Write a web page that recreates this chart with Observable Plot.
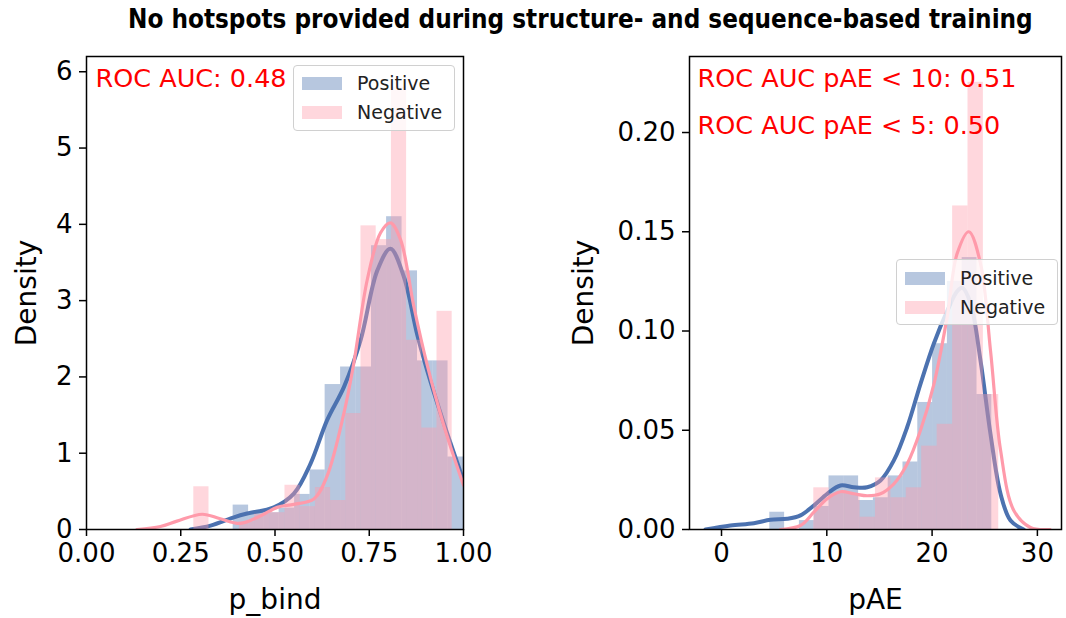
<!DOCTYPE html>
<html><head><meta charset="utf-8">
<script src="https://cdn.jsdelivr.net/npm/d3@7"></script>
<script src="https://cdn.jsdelivr.net/npm/@observablehq/plot@0.6"></script>
<style>
body{margin:0;background:#fff;}
#wrap{position:relative;width:1066px;height:618px;overflow:hidden;background:#fff;}
#title{position:absolute;left:128px;top:4px;white-space:nowrap;font-family:"DejaVu Sans Condensed","DejaVu Sans";font-stretch:condensed;font-weight:bold;font-size:25.8px;color:#000;}
.panel{position:absolute;top:0;}
.legend{position:absolute;border:1.3px solid #d0d0d0;border-radius:4px;background:rgba(255,255,255,0.8);font-family:"DejaVu Sans";font-size:19px;color:#222;}
.legend .patch{position:absolute;width:40px;height:13px;}
.legend .lab{position:absolute;white-space:nowrap;line-height:22px;}
</style></head>
<body><div id="wrap">
<div id="title">No hotspots provided during structure- and sequence-based training</div>
</div>
<script>
// ---------------- data ----------------
const seriesNames = ["Positive", "Negative"];
const blueColor = "#4C72B0";
const pinkColor = "#FF9AAA";

// Left panel: p_bind
const posBindEdges = [0.389,0.430,0.470,0.511,0.552,0.593,0.633,0.674,0.715,0.756,0.796,0.837,0.878,0.919,0.959,1.0];
const posBindHeights = [0.32,0.22,0.22,0.28,0.46,0.78,1.90,2.13,2.13,3.72,4.10,3.39,2.21,2.21,0.95];
const negBindEdges = [0.2846,0.3249,0.3653,0.4056,0.4459,0.4862,0.5265,0.5668,0.6072,0.6475,0.6878,0.7281,0.7684,0.8088,0.8491,0.8894,0.9297,0.970];
const negBindHeights = [0.56,0,0,0.10,0.20,0.22,0.58,0.30,0.55,0.38,1.52,3.98,3.80,5.80,2.48,1.33,2.86];
const posBindKdeX = [0.276,0.329,0.391,0.426,0.497,0.550,0.594,0.638,0.683,0.727,0.771,0.806,0.842,0.877,0.904,0.948,1.0];
const posBindKdeY = [0,0.05,0.16,0.21,0.29,0.47,0.86,1.43,1.87,2.48,3.39,3.68,3.31,2.56,2.08,1.39,0.64];
const negBindKdeX = [0.134,0.196,0.240,0.307,0.355,0.408,0.462,0.506,0.550,0.603,0.638,0.683,0.709,0.745,0.780,0.806,0.833,0.868,0.904,0.948,1.0];
const negBindKdeY = [0,0.04,0.11,0.20,0.14,0.08,0.18,0.29,0.33,0.40,0.70,1.53,2.18,3.28,3.89,4.02,3.80,2.93,2.15,1.36,0.58];
const bindTicks = [0, 0.25, 0.5, 0.75, 1.0];
const bindDensityTicks = [0, 1, 2, 3, 4, 5, 6];
const bindAuc = ["ROC AUC: 0.48"];

// Right panel: pAE
const posPaeEdges = [4.587,5.993,7.398,8.803,10.209,11.614,13.020,14.425,15.831,17.236,18.642,20.047,21.453,22.858,24.264,25.669];
const posPaeHeights = [0.0087,0,0.0045,0.0116,0.027,0.027,0.0146,0.016,0.027,0.034,0.064,0.0936,0.125,0.137,0.068];
const negPaeEdges = [8.765,10.228,11.69,13.16,14.62,16.09,17.55,19.01,20.48,21.95,23.41,24.87,26.33];
const negPaeHeights = [0.021,0.018,0.018,0.0062,0.026,0.016,0.021,0.042,0.053,0.163,0.2253,0.068];
const posPaeKdeX = [-1.52,0.85,3.07,4.65,6.24,7.50,8.77,10.04,11.30,12.57,13.84,15.10,16.37,17.63,18.90,20.16,21.43,22.38,22.86,23.65,24.60,25.55,26.50,27.45,28.70];
const posPaeKdeY = [0,0.002,0.0032,0.0049,0.0054,0.0071,0.0121,0.018,0.0222,0.0213,0.0213,0.0247,0.0348,0.0515,0.0734,0.0936,0.110,0.120,0.1218,0.114,0.085,0.048,0.018,0.0045,0];
const negPaeKdeX = [5.6,7.5,8.77,10.04,11.30,12.57,13.84,15.10,16.37,17.63,18.90,20.16,21.43,22.38,23.49,24.60,25.55,26.50,27.76,29.34,31.2];
const negPaeKdeY = [0,0.002,0.0087,0.0155,0.019,0.018,0.017,0.018,0.023,0.033,0.050,0.073,0.107,0.139,0.150,0.134,0.090,0.040,0.0096,0.001,0];
const paeTicks = [0, 10, 20, 30];
const paeDensityTicks = [0, 0.05, 0.10, 0.15, 0.20];
const paeAuc = ["ROC AUC pAE < 10: 0.51", "ROC AUC pAE < 5: 0.50"];

// ---------------- helpers ----------------
const bins = (edges, h) => h.map((v, i) => ({x1: edges[i], x2: edges[i + 1], y: v}));
const pts = (xs, ys) => xs.map((x, i) => ({x, y: ys[i]}));

function panel(o) {
  const svg = Plot.plot({
    width: o.width, height: 618,
    marginTop: 56, marginBottom: 89, marginLeft: o.marginLeft, marginRight: o.marginRight,
    x: {domain: o.xDomain},
    y: {domain: o.yDomain},
    style: {fontFamily: "'DejaVu Sans'", fontSize: "26px", color: "#000", background: "transparent"},
    marks: [
      Plot.rectY(bins(o.posEdges, o.posH), {x1: "x1", x2: "x2", y: "y", fill: blueColor, fillOpacity: 0.4, inset: 0}),
      Plot.line(pts(o.posKx, o.posKy), {x: "x", y: "y", stroke: blueColor, strokeWidth: 4, curve: "catmull-rom", clip: true}),
      Plot.rectY(bins(o.negEdges, o.negH), {x1: "x1", x2: "x2", y: "y", fill: pinkColor, fillOpacity: 0.4, inset: 0}),
      Plot.line(pts(o.negKx, o.negKy), {x: "x", y: "y", stroke: pinkColor, strokeWidth: 3.2, curve: "catmull-rom", clip: true}),
      ...o.auc.map((t, i) => Plot.text([t], {text: d => d, frameAnchor: "top-left", textAnchor: "start", lineAnchor: "middle",
        dx: o.aucDx, dy: o.aucDy[i], fill: "#ff0000", fontSize: 25.5, fontFamily: "DejaVu Sans"})),
      Plot.frame({stroke: "#000", strokeWidth: 1.5}),
      Plot.axisX({ticks: o.xTicks, tickFormat: o.xFmt, tickSize: 7, tickPadding: 7, strokeWidth: 1.5, label: null, fontSize: 26}),
      Plot.axisX({ticks: [], tickSize: 0, label: o.xLabel, labelAnchor: "center", labelArrow: false, labelOffset: 79, fontSize: 28}),
      Plot.axisY({ticks: o.yTicks, tickFormat: o.yFmt, tickSize: 7, tickPadding: 7, strokeWidth: 1.5, label: null, fontSize: 26}),
      Plot.axisY({ticks: [], tickSize: 0, label: "Density", labelAnchor: "center", labelArrow: false, labelOffset: o.yLabelOffset, fontSize: 28})
    ]
  });
  svg.classList.add("panel");
  svg.style.left = o.left + "px";
  return svg;
}

const wrap = document.getElementById("wrap");
wrap.appendChild(panel({
  left: 0, width: 533, marginLeft: 86, marginRight: 70,
  xDomain: [0, 1], yDomain: [0, 6.2],
  posEdges: posBindEdges, posH: posBindHeights, negEdges: negBindEdges, negH: negBindHeights,
  posKx: posBindKdeX, posKy: posBindKdeY, negKx: negBindKdeX, negKy: negBindKdeY,
  xTicks: bindTicks, xFmt: d3.format(".2f"), yTicks: bindDensityTicks, yFmt: d3.format("d"),
  xLabel: "p_bind", yLabelOffset: 70, auc: bindAuc, aucDx: 9, aucDy: [22]
}));
wrap.appendChild(panel({
  left: 533, width: 533, marginLeft: 156, marginRight: 5,
  xDomain: [-3.04, 32.29], yDomain: [0, 0.2383],
  posEdges: posPaeEdges, posH: posPaeHeights, negEdges: negPaeEdges, negH: negPaeHeights,
  posKx: posPaeKdeX, posKy: posPaeKdeY, negKx: negPaeKdeX, negKy: negPaeKdeY,
  xTicks: paeTicks, xFmt: d3.format("d"), yTicks: paeDensityTicks, yFmt: d3.format(".2f"),
  xLabel: "pAE", yLabelOffset: 116, auc: paeAuc, aucDx: 8, aucDy: [22, 69]
}));

function legend(left, top, rowYs) {
  const box = document.createElement("div");
  box.className = "legend";
  Object.assign(box.style, {left: left + "px", top: top + "px", width: "160px", height: "64px"});
  seriesNames.forEach((name, i) => {
    const p = document.createElement("div");
    p.className = "patch";
    Object.assign(p.style, {left: "8px", top: (rowYs[i] - 6.5) + "px", background: i === 0 ? "rgba(76,114,176,0.4)" : "rgba(255,154,170,0.4)"});
    const l = document.createElement("div");
    l.className = "lab";
    l.textContent = name;
    Object.assign(l.style, {left: "63px", top: (rowYs[i] - 11) + "px"});
    box.appendChild(p); box.appendChild(l);
  });
  wrap.appendChild(box);
}
legend(293, 65, [17, 46]);
legend(896, 259, [18, 47]);
</script>
</body></html>
